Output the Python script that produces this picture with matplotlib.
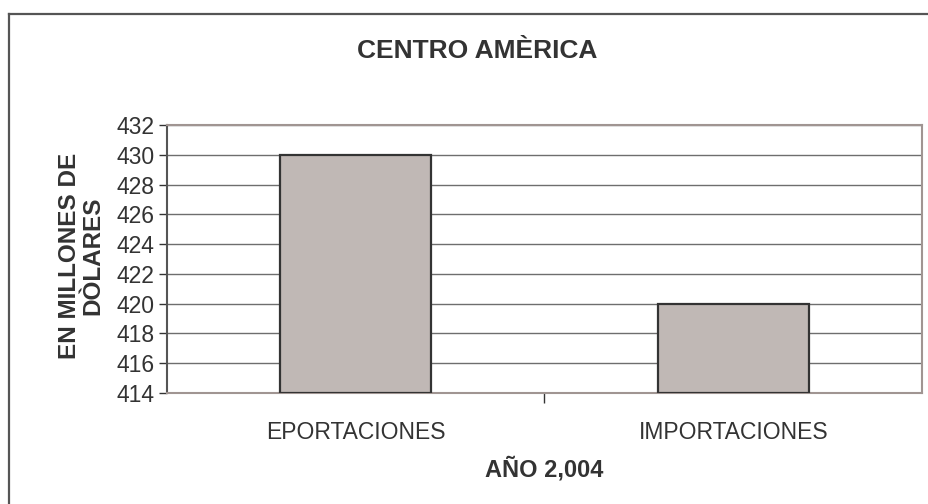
import matplotlib
matplotlib.use("Agg")
import matplotlib.pyplot as plt
from matplotlib.lines import Line2D

categories = ["EPORTACIONES", "IMPORTACIONES"]
values = [430, 420]
y_ticks = list(range(414, 433, 2))

C_BAR = "#c0b8b5"
C_EDGE = "#333333"
C_TEXT = "#333333"
C_GRID = "#6e6e6e"
C_FRAME = "#a09592"

plt.rcParams["font.family"] = ["Liberation Sans", "DejaVu Sans"]

fig = plt.figure(figsize=(9.29, 5.04), dpi=100)
fig.patch.set_facecolor("white")

# outer chart border (runs off the right and bottom edges)
fig.add_artist(Line2D([9.5 / 929, 9.5 / 929], [0, 1 - 14 / 504], color="#555555", lw=1.6,
                      transform=fig.transFigure))
fig.add_artist(Line2D([9.5 / 929, 1], [1 - 14 / 504, 1 - 14 / 504], color="#555555", lw=1.6,
                      transform=fig.transFigure))

ax = fig.add_axes([167 / 929, 1 - 393 / 504, (922 - 167) / 929, (393 - 125) / 504])
ax.set_facecolor("white")

x = list(range(len(categories)))
ax.bar(x, [v - 414 for v in values], bottom=414, width=0.4, color=C_BAR,
       edgecolor=C_EDGE, linewidth=1.6, zorder=3)

ax.set_xlim(-0.5, len(categories) - 0.5)
ax.set_ylim(414, 432)
ax.set_yticks(y_ticks)
ax.set_yticklabels([str(t) for t in y_ticks], fontsize=16.5, color=C_TEXT)
ax.yaxis.grid(True, color=C_GRID, lw=1.0, zorder=0)

ax.set_xticks([0.5], minor=False)
ax.set_xticklabels([""])
ax.tick_params(axis="x", length=7, width=1, color=C_TEXT, direction="out")
ax.tick_params(axis="y", length=6, width=1, color=C_TEXT, pad=3)
for i, c in enumerate(categories):
    ax.text(i, -0.148, c, transform=ax.get_xaxis_transform(), ha="center", va="center",
            fontsize=16.5, color=C_TEXT)

ax.spines["left"].set_color("#555555")
ax.spines["bottom"].set_color(C_FRAME)
ax.spines["top"].set_color(C_FRAME)
ax.spines["right"].set_color(C_FRAME)
for sp in ax.spines.values():
    sp.set_linewidth(1.5)

fig.text(477 / 929, 1 - 51 / 504, "CENTRO AMÈRICA", ha="center", va="center",
         fontsize=19, fontweight="bold", color=C_TEXT)
fig.text(544 / 929, 1 - 469 / 504, "AÑO 2,004", ha="center", va="center",
         fontsize=17, fontweight="bold", color=C_TEXT)
fig.text(81 / 929, 1 - 256 / 504, "EN MILLONES DE\nDÒLARES", ha="center", va="center",
         rotation=90, fontsize=17.5, fontweight="bold", color=C_TEXT, linespacing=1.0)

fig.savefig("out.png", dpi=100, facecolor="white")
